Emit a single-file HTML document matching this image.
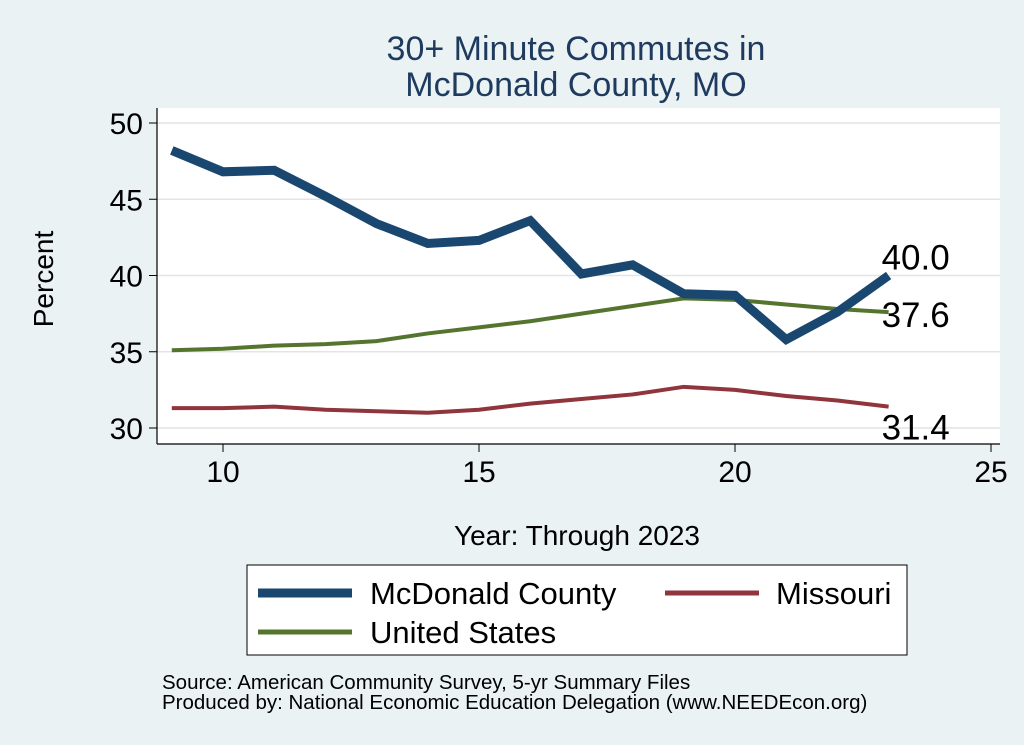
<!DOCTYPE html>
<html><head><meta charset="utf-8"><style>
body{margin:0;background:#eaf2f3;}
svg{display:block;font-family:"Liberation Sans",Arial,sans-serif;}
</style></head><body>
<svg id="chart" width="1024" height="745" viewBox="0 0 1024 745">
<rect x="0" y="0" width="1024" height="745" fill="#eaf2f3"/>
<text x="576" y="60" font-size="34" fill="#1e3a5f" text-anchor="middle">30+ Minute Commutes in</text>
<text x="576" y="96" font-size="34" fill="#1e3a5f" text-anchor="middle">McDonald County, MO</text>
<rect x="157" y="108" width="843" height="336" fill="#ffffff"/>
<g id="grid"></g>
<line x1="157" y1="108" x2="157" y2="444" stroke="#000" stroke-width="1.2"/>
<line x1="157" y1="444" x2="1000" y2="444" stroke="#000" stroke-width="1.2"/>
<g id="ticks"></g>
<g id="series"></g>
<text x="53" y="279" font-size="28" fill="#000" text-anchor="middle" transform="rotate(-90 53 279)">Percent</text>
<text x="577" y="545" font-size="28" fill="#000" text-anchor="middle">Year: Through 2023</text>
<g>
<rect x="247" y="565" width="660" height="90" fill="#fff" stroke="#000" stroke-width="1"/>
<line x1="258" y1="593" x2="352" y2="593" stroke="#1a476f" stroke-width="9"/>
<text x="370" y="604" font-size="31">McDonald County</text>
<line x1="665" y1="593" x2="759" y2="593" stroke="#90353b" stroke-width="5"/>
<text x="776" y="604" font-size="31">Missouri</text>
<line x1="258" y1="632" x2="352" y2="632" stroke="#55752f" stroke-width="5"/>
<text x="370" y="643" font-size="31">United States</text>
</g>
<text x="162" y="689" font-size="20.5">Source: American Community Survey, 5-yr Summary Files</text>
<text x="162" y="709" font-size="20.5">Produced by: National Economic Education Delegation (www.NEEDEcon.org)</text>
</svg>
<script>
const years=[9,10,11,12,13,14,15,16,17,18,19,20,21,22,23];
const mcdonald=[48.2,46.8,46.9,45.2,43.4,42.1,42.3,43.6,40.1,40.7,38.8,38.7,35.8,37.6,40.0];
const unitedStates=[35.1,35.2,35.4,35.5,35.7,36.2,36.6,37.0,37.5,38.0,38.5,38.4,38.1,37.8,37.6];
const missouri=[31.3,31.3,31.4,31.2,31.1,31.0,31.2,31.6,31.9,32.2,32.7,32.5,32.1,31.8,31.4];
const yTicks=[30,35,40,45,50];
const xTicks=[10,15,20,25];
const NS='http://www.w3.org/2000/svg';
const X=v=>223+(v-10)*51.2;
const Y=v=>428-(v-30)*15.25;
function mk(tag,attrs,parent){const e=document.createElementNS(NS,tag);for(const k in attrs)e.setAttribute(k,attrs[k]);parent.appendChild(e);return e;}
const grid=document.getElementById('grid'),ticks=document.getElementById('ticks'),series=document.getElementById('series');
yTicks.forEach(t=>{
 const g=mk('line',{x1:157,x2:1000,y1:Y(t),y2:Y(t),stroke:'#e4e4e4','stroke-width':1.5},grid);
 
 
 const tk=mk('line',{x1:149,x2:157,y1:Y(t),y2:Y(t),stroke:'#000'},ticks);
 
 
 const tx=mk('text',{x:143,y:Y(t)+11,'font-size':30,'text-anchor':'end'},ticks);
 tx.textContent=t;
 
 
});
xTicks.forEach(t=>{
 const tk=mk('line',{x1:X(t),x2:X(t),y1:444,y2:452,stroke:'#000'},ticks);
 
 
 const tx=mk('text',{x:X(t),y:482,'font-size':30,'text-anchor':'middle'},ticks);
 tx.textContent=t;
 
 
});
function line(vals,color,w,name){
 const p=mk('polyline',{points:vals.map((v,i)=>X(years[i])+','+Y(v)).join(' '),fill:'none',stroke:color,'stroke-width':w,'stroke-linejoin':'miter'},series);
 
 
}
line(missouri,'#90353b',4,'missouri-line');
line(unitedStates,'#55752f',4,'us-line');
line(mcdonald,'#1a476f',9,'mcdonald-line');
function lab(vals,dy,name){
 const v=vals[vals.length-1];
 const t=mk('text',{x:X(years[years.length-1])-7,y:Y(v)+dy,'font-size':35},series);
 t.textContent=v.toFixed(1);
 
 
}
lab(mcdonald,-6,'mcdonald-end-label');
lab(unitedStates,15,'us-end-label');
lab(missouri,33,'missouri-end-label');
</script>
</body></html>
